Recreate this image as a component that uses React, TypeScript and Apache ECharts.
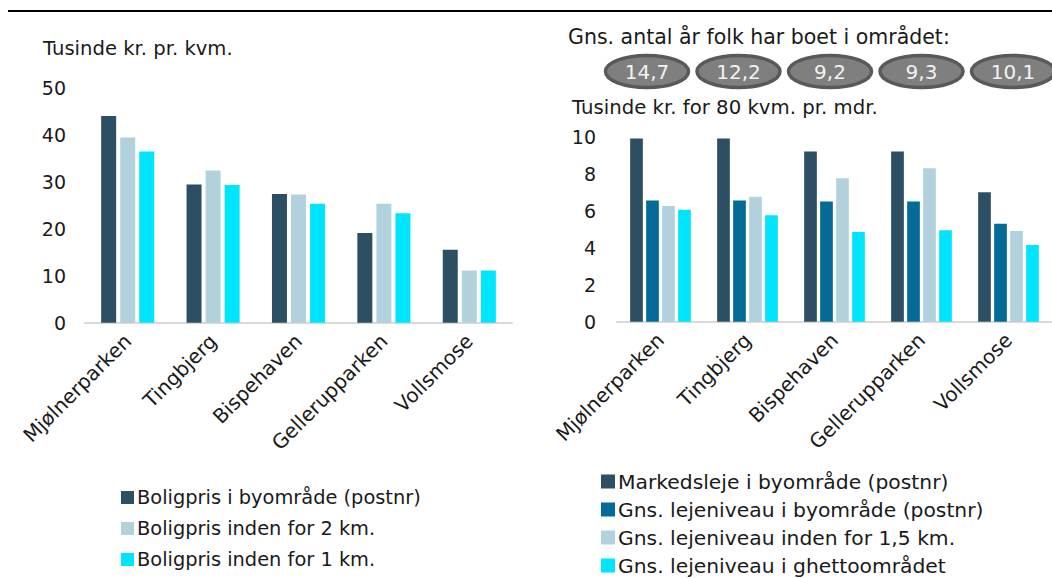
import React, { useEffect, useRef } from "react";
import * as echarts from "echarts";

const categories = ["Mjølnerparken", "Tingbjerg", "Bispehaven", "Gellerupparken", "Vollsmose"];

// Left chart: Tusinde kr. pr. kvm.
const boligprisBy = [44.0, 29.4, 27.4, 19.1, 15.5];
const boligpris2km = [39.4, 32.4, 27.3, 25.3, 11.1];
const boligpris1km = [36.4, 29.3, 25.3, 23.3, 11.1];

// Right chart: Tusinde kr. for 80 kvm. pr. mdr.
const markedsleje = [9.9, 9.9, 9.2, 9.2, 7.0];
const lejeBy = [6.55, 6.55, 6.5, 6.5, 5.3];
const leje15km = [6.25, 6.75, 7.75, 8.3, 4.9];
const lejeGhetto = [6.05, 5.75, 4.85, 4.95, 4.15];

// Gns. antal år folk har boet i området
const yearsLived = [14.7, 12.2, 9.2, 9.3, 10.1];

const leftTicks = { min: 0, max: 50, interval: 10 };
const rightTicks = { min: 0, max: 10, interval: 2 };

const FONT = "DejaVu Sans";
const C_DARK = "#2c4f64";
const C_BLUE = "#046a97";
const C_LIGHT = "#b1d2dd";
const C_CYAN = "#00e5ff";

export default function App() {
  const ref = useRef<HTMLDivElement>(null);
  useEffect(() => {
    if (!ref.current) return;
    const chart = echarts.init(ref.current, undefined, { renderer: "svg" });

    const ellipses: any[] = [];
    yearsLived.forEach((v, i) => {
      const cx = 647 + i * 91.5;
      ellipses.push({
        type: "ellipse",
        shape: { cx, cy: 71.5, rx: 41.5, ry: 16 },
        style: { fill: "#7f7f7f", stroke: "#595959", lineWidth: 3.5 },
        silent: true,
      });
      ellipses.push({
        type: "text",
        x: cx,
        y: 72,
        style: {
          text: v.toFixed(1).replace(".", ","),
          fill: "#f2f2f2",
          font: `20px ${FONT}`,
          align: "center",
          verticalAlign: "middle",
        },
        silent: true,
      });
    });

    const axisLabel = { fontFamily: FONT, fontSize: 19, color: "#1a1a1a" };

    chart.setOption({
      animation: false,
      textStyle: { fontFamily: FONT },
      graphic: [
        { type: "line", shape: { x1: 8, y1: 11, x2: 1052, y2: 11 }, style: { stroke: "#000", lineWidth: 2 } },
        {
          type: "text", x: 43, y: 48,
          style: { text: "Tusinde kr. pr. kvm.", font: `19.6px ${FONT}`, fill: "#1a1a1a", verticalAlign: "middle" },
        },
        {
          type: "text", x: 568, y: 37,
          style: { text: "Gns. antal år folk har boet i området:", font: `20.5px ${FONT}`, fill: "#1a1a1a", verticalAlign: "middle" },
        },
        {
          type: "text", x: 572, y: 107,
          style: { text: "Tusinde kr. for 80 kvm. pr. mdr.", font: `19.7px ${FONT}`, fill: "#1a1a1a", verticalAlign: "middle" },
        },
        ...ellipses,
      ],
      grid: [
        { left: 85, width: 427, top: 87.7, height: 235, containLabel: false },
        { left: 617, width: 435, top: 136.7, height: 185, containLabel: false },
      ],
      legend: [
        {
          data: ["Boligpris i byområde (postnr)", "Boligpris inden for 2 km.", "Boligpris inden for 1 km."],
          orient: "vertical", left: 121, top: 488, height: 90, padding: 0,
          itemWidth: 13, itemHeight: 13, itemGap: 12,
          icon: "rect",
          textStyle: { fontFamily: FONT, fontSize: 19.4, color: "#1a1a1a", padding: [0, 0, 0, -2] },
        },
        {
          data: ["Markedsleje i byområde (postnr)", "Gns. lejeniveau i byområde (postnr)", "Gns. lejeniveau inden for 1,5 km.", "Gns. lejeniveau i ghettoområdet"],
          orient: "vertical", left: 601, top: 471.5, height: 106, padding: 0,
          itemWidth: 14, itemHeight: 14, itemGap: 8,
          icon: "rect",
          textStyle: { fontFamily: FONT, fontSize: 20.3, color: "#1a1a1a", padding: [0, 0, 0, -2] },
        },
      ],
      xAxis: [
        {
          type: "category", gridIndex: 0, data: categories,
          axisLine: { lineStyle: { color: "#d9d9d9", width: 2 } },
          axisTick: { show: false },
          axisLabel: { ...axisLabel, fontSize: 20, rotate: 45, margin: 15, interval: 0 },
        },
        {
          type: "category", gridIndex: 1, data: categories,
          axisLine: { lineStyle: { color: "#d9d9d9", width: 2 } },
          axisTick: { show: false },
          axisLabel: { ...axisLabel, fontSize: 20, rotate: 45, margin: 15, interval: 0 },
        },
      ],
      yAxis: [
        {
          type: "value", gridIndex: 0, ...leftTicks,
          splitLine: { show: false }, axisLine: { show: false }, axisTick: { show: false },
          axisLabel: { ...axisLabel, margin: 19 },
        },
        {
          type: "value", gridIndex: 1, ...rightTicks,
          splitLine: { show: false }, axisLine: { show: false }, axisTick: { show: false },
          axisLabel: { ...axisLabel, margin: 21 },
        },
      ],
      series: [
        { name: "Boligpris i byområde (postnr)", type: "bar", xAxisIndex: 0, yAxisIndex: 0, data: boligprisBy, barWidth: 15, barGap: "27%", itemStyle: { color: C_DARK } },
        { name: "Boligpris inden for 2 km.", type: "bar", xAxisIndex: 0, yAxisIndex: 0, data: boligpris2km, barWidth: 15, barGap: "27%", itemStyle: { color: C_LIGHT } },
        { name: "Boligpris inden for 1 km.", type: "bar", xAxisIndex: 0, yAxisIndex: 0, data: boligpris1km, barWidth: 15, barGap: "27%", itemStyle: { color: C_CYAN } },
        { name: "Markedsleje i byområde (postnr)", type: "bar", xAxisIndex: 1, yAxisIndex: 1, data: markedsleje, barWidth: 12.7, barGap: "26%", itemStyle: { color: C_DARK } },
        { name: "Gns. lejeniveau i byområde (postnr)", type: "bar", xAxisIndex: 1, yAxisIndex: 1, data: lejeBy, barWidth: 12.7, barGap: "26%", itemStyle: { color: C_BLUE } },
        { name: "Gns. lejeniveau inden for 1,5 km.", type: "bar", xAxisIndex: 1, yAxisIndex: 1, data: leje15km, barWidth: 12.7, barGap: "26%", itemStyle: { color: C_LIGHT } },
        { name: "Gns. lejeniveau i ghettoområdet", type: "bar", xAxisIndex: 1, yAxisIndex: 1, data: lejeGhetto, barWidth: 12.7, barGap: "26%", itemStyle: { color: C_CYAN } },
      ],
    });
    return () => chart.dispose();
  }, []);
  return (
    <div
      ref={ref}
      style={{ position: "fixed", left: 0, top: 0, width: 1052, height: 578, background: "#fff" }}
    />
  );
}
